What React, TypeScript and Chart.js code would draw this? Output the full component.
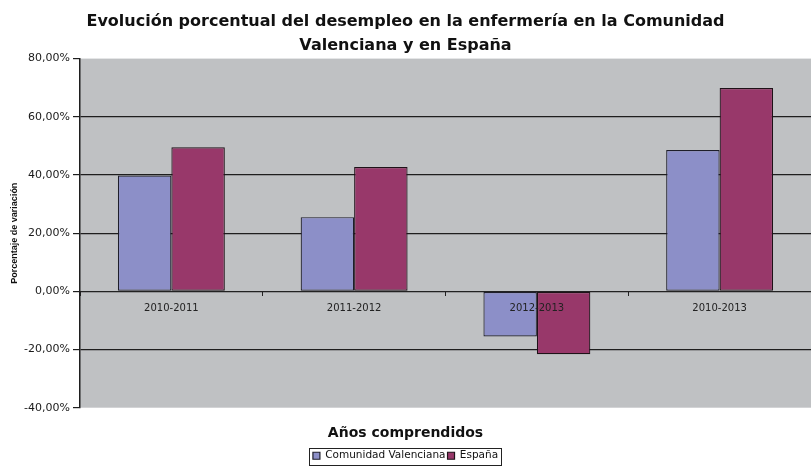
import React, { useEffect, useRef } from "react";
import { Chart, registerables } from "chart.js";

Chart.register(...registerables);

const categories = ["2010-2011", "2011-2012", "2012-2013", "2010-2013"];
const comunidadValenciana = [39.8, 25.5, -15.5, 48.6];
const espana = [49.5, 42.7, -21.6, 69.9];
const seriesNames = ["Comunidad Valenciana", "España"];
const titleLines = [
  "Evolución porcentual del desempleo en la enfermería en la Comunidad",
  "Valenciana y en España",
];
const xTitle = "Años comprendidos";
const yTitle = "Porcentaje de variación";

const plotBg = {
  id: "plotBg",
  beforeDraw(chart: any) {
    const { ctx, chartArea } = chart;
    ctx.save();
    ctx.fillStyle = "#bfc1c3";
    ctx.fillRect(chartArea.left, chartArea.top, chartArea.right - chartArea.left, chartArea.bottom - chartArea.top);
    ctx.restore();
  },
};

const legendBorder = {
  id: "legendBorder",
  afterDraw(chart: any) {
    const lg = chart.legend;
    if (!lg || !lg.legendHitBoxes || !lg.legendHitBoxes.length) return;
    const hb = lg.legendHitBoxes;
    let l = Infinity, r = -Infinity, t = Infinity, b = -Infinity;
    hb.forEach((h: any) => {
      l = Math.min(l, h.left);
      r = Math.max(r, h.left + h.width);
      t = Math.min(t, h.top);
      b = Math.max(b, h.top + h.height);
    });
    const { ctx } = chart;
    ctx.save();
    ctx.strokeStyle = "#222";
    ctx.lineWidth = 1;
    ctx.strokeRect(Math.round(l - 4) + 0.5, Math.round(t - 3) + 0.5, Math.round(r - l + 7), Math.round(b - t + 6));
    ctx.restore();
  },
};

export default function App() {
  const ref = useRef<HTMLCanvasElement>(null);
  useEffect(() => {
    document.body.style.margin = "0";
    const chart = new Chart(ref.current as HTMLCanvasElement, {
      type: "bar",
      data: {
        labels: categories,
        datasets: [
          {
            label: seriesNames[0],
            data: comunidadValenciana,
            backgroundColor: "#8c8fc8",
            borderColor: "#1e1e2a",
            borderWidth: 1.2,
            borderSkipped: false,
            categoryPercentage: 0.585,
            barPercentage: 1,
          },
          {
            label: seriesNames[1],
            data: espana,
            backgroundColor: "#98386a",
            borderColor: "#1e1218",
            borderWidth: 1.2,
            borderSkipped: false,
            categoryPercentage: 0.585,
            barPercentage: 1,
          },
        ],
      },
      options: {
        responsive: false,
        animation: false,
        layout: { padding: { left: 0, right: 0, top: 0, bottom: -5 } },
        scales: {
          x: {
            position: { y: 0 } as any,
            grid: {
              drawOnChartArea: false,
              drawTicks: true,
              tickLength: 4,
              color: "#222",
              offset: true,
            },
            border: { display: true, color: "#222", width: 1 },
            ticks: {
              z: 1,
              color: "#222",
              padding: 7,
              font: { family: "DejaVu Sans", size: 10 },
              maxRotation: 0,
            },
          },
          y: {
            min: -40,
            max: 80,
            afterFit(scale: any) {
              scale.width = 80;
            },
            ticks: {
              stepSize: 20,
              color: "#1a1a1a",
              padding: 3,
              font: { family: "DejaVu Sans", size: 11 },
              callback: (v: any) => Number(v).toFixed(2).replace(".", ",") + "%",
            },
            grid: {
              color: (c: any) =>
                c.tick && (c.tick.value === 80 || c.tick.value === -40) ? "rgba(0,0,0,0)" : "#1e1e1e",
              tickColor: "#1e1e1e",
              lineWidth: 1.2,
              tickLength: 7,
            },
            border: { display: true, color: "#1e1e1e", width: 1.5 },
            title: {
              display: true,
              text: yTitle,
              color: "#111",
              font: { family: "Liberation Sans", size: 9, weight: "bold" },
              padding: { top: 9, bottom: 0 },
            },
          },
        },
        plugins: {
          title: {
            display: true,
            text: titleLines,
            color: "#111",
            font: { family: "DejaVu Sans", size: 16, weight: "bold", lineHeight: 1.55 },
            padding: { top: 9, bottom: 0 },
          },
          subtitle: {
            display: true,
            position: "bottom",
            weight: 500,
            text: xTitle,
            color: "#111",
            font: { family: "DejaVu Sans", size: 14, weight: "bold", lineHeight: 1.2 },
            padding: { top: 17.5, bottom: 6.5 },
          } as any,
          legend: {
            display: true,
            position: "bottom",
            weight: 3000,
            labels: {
              color: "#111",
              boxWidth: 7,
              boxHeight: 7,
              padding: 2,
              font: { family: "DejaVu Sans", size: 10.5 },
            },
          } as any,
          tooltip: { enabled: false },
        },
      },
      plugins: [plotBg, legendBorder],
    });
    return () => chart.destroy();
  }, []);
  return (
    <div style={{ width: 811, height: 466 }}>
      <canvas ref={ref} width={811} height={466} />
    </div>
  );
}
